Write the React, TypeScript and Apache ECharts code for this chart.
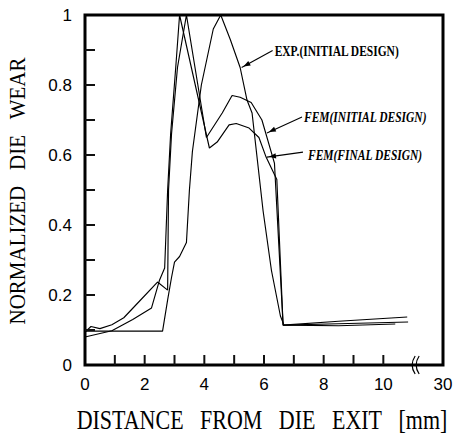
import React, { useEffect, useRef } from "react";
import * as echarts from "echarts";

// EXP.(INITIAL DESIGN)
const expX = [0, 2.6, 2.77, 2.9, 3.0, 3.17, 3.4, 3.5, 3.6, 3.9, 4.1, 4.3, 4.55, 4.87, 5.2, 5.43, 5.6, 5.97, 6.25, 6.55, 6.67, 8.5, 10.4];
const expY = [0.097, 0.097, 0.186, 0.25, 0.294, 0.31, 0.35, 0.5, 0.61, 0.8, 0.88, 0.96, 1.0, 0.93, 0.85, 0.757, 0.72, 0.44, 0.27, 0.14, 0.114, 0.112, 0.117];

// FEM(INITIAL DESIGN)
const femInitX = [0, 0.2, 0.5, 0.9, 1.3, 1.8, 2.43, 2.77, 2.8, 2.9, 3.1, 3.4, 4.07, 4.6, 4.93, 5.2, 5.57, 5.93, 6.35, 6.64, 8.5, 10.8];
const femInitY = [0.094, 0.11, 0.104, 0.115, 0.135, 0.18, 0.237, 0.214, 0.5, 0.66, 0.85, 1.0, 0.65, 0.72, 0.77, 0.765, 0.75, 0.7, 0.577, 0.114, 0.125, 0.137];

// FEM(FINAL DESIGN)
const femFinalX = [0, 0.9, 1.6, 2.23, 2.5, 2.67, 2.77, 2.87, 3.05, 3.17, 4.17, 4.43, 4.83, 5.07, 5.5, 5.83, 6.07, 6.43, 6.64, 8.5, 10.83];
const femFinalY = [0.08, 0.098, 0.13, 0.163, 0.243, 0.277, 0.5, 0.66, 0.86, 1.0, 0.62, 0.637, 0.686, 0.69, 0.677, 0.65, 0.594, 0.53, 0.114, 0.118, 0.123];

const xLabelValues = [0, 2, 4, 6, 8, 10, 12];
const xLabelTexts = ["0", "2", "4", "6", "8", "10", "30"];
const xTickValues = [1, 2, 3, 4, 5, 6, 7, 8, 9, 10];
const yTickValues = [0.1, 0.2, 0.3, 0.4, 0.5, 0.6, 0.7, 0.8, 0.9];

const annotationTexts = ["EXP.(INITIAL DESIGN)", "FEM(INITIAL DESIGN)", "FEM(FINAL DESIGN)"];
const annotationTipX = [5.25, 6.1, 6.1];
const annotationTipY = [0.85, 0.663, 0.594];

const SP = "\u00A0\u00A0\u00A0";
const xTitleWords = ["DISTANCE", "FROM", "DIE", "EXIT", "[mm]"];
const yTitleWords = ["NORMALIZED", "DIE", "WEAR"];

const zip = (xs: number[], ys: number[]) => xs.map((x, i) => [x, ys[i]]);

export default function App() {
  const ref = useRef<HTMLDivElement>(null);

  useEffect(() => {
    if (!ref.current) return;
    const chart = echarts.init(ref.current, undefined, { renderer: "svg" });
    const mkSeries = (name: string, xs: number[], ys: number[]) => ({
      name,
      type: "line",
      data: zip(xs, ys),
      symbol: "none",
      lineStyle: { color: "#000", width: 1.15 },
    });
    chart.setOption({
      animation: false,
      backgroundColor: "#fff",
      grid: { left: 85, right: 15, top: 15, bottom: 71, show: true, borderColor: "#000", borderWidth: 3 },
      xAxis: {
        type: "value",
        min: 0,
        max: 12,
        interval: 2,
        axisLine: { show: false },
        axisTick: { show: false },
        axisLabel: {
          customValues: xLabelValues,
          formatter: (v: number) => {
            const i = xLabelValues.indexOf(v);
            return i >= 0 ? xLabelTexts[i] : "";
          },
          color: "#000",
          fontFamily: "Liberation Sans",
          fontSize: 17,
          margin: 11,
        },
        splitLine: { show: false },
      },
      yAxis: {
        type: "value",
        min: 0,
        max: 1,
        interval: 0.2,
        axisLine: { show: false },
        axisTick: { show: false },
        axisLabel: {
          formatter: (v: number) => (v === 0 ? "0" : v === 1 ? "1" : v.toFixed(1)),
          color: "#000",
          fontFamily: "Liberation Sans",
          fontSize: 17,
          margin: 13,
        },
        splitLine: { show: false },
      },
      series: [
        mkSeries("EXP.(INITIAL DESIGN)", expX, expY),
        mkSeries("FEM(INITIAL DESIGN)", femInitX, femInitY),
        mkSeries("FEM(FINAL DESIGN)", femFinalX, femFinalY),
      ],
    });

    const graphics: any[] = [];
    const tickLen = 10;
    xTickValues.forEach((v) => {
      const p = chart.convertToPixel({ gridIndex: 0 }, [v, 0]) as number[];
      graphics.push({ type: "rect", z: 50, shape: { x: p[0] - 1, y: p[1] - tickLen, width: 2, height: tickLen }, style: { fill: "#111" } });
    });
    yTickValues.forEach((v) => {
      const p = chart.convertToPixel({ gridIndex: 0 }, [0, v]) as number[];
      graphics.push({ type: "rect", z: 50, shape: { x: p[0], y: p[1] - 1, width: tickLen, height: 2 }, style: { fill: "#111" } });
    });

    const tailOffsets = [
      [31, -17],
      [35, -16],
      [36, -5],
    ];
    const textOffsets = [
      [2, 0],
      [2, 0],
      [5, 3],
    ];
    annotationTexts.forEach((t, i) => {
      const tip = chart.convertToPixel({ gridIndex: 0 }, [annotationTipX[i], annotationTipY[i]]) as number[];
      const tail = [tip[0] + tailOffsets[i][0], tip[1] + tailOffsets[i][1]];
      const dx = tip[0] - tail[0];
      const dy = tip[1] - tail[1];
      const len = Math.hypot(dx, dy);
      const ux = dx / len;
      const uy = dy / len;
      const headLen = 9;
      const headW = 2.6;
      const bx = tip[0] - ux * headLen;
      const by = tip[1] - uy * headLen;
      graphics.push({
        type: "line",
        shape: { x1: tail[0], y1: tail[1], x2: tip[0], y2: tip[1] },
        style: { stroke: "#000", lineWidth: 1.1 },
      });
      graphics.push({
        type: "polygon",
        shape: {
          points: [
            [tip[0] - ux * 2, tip[1] - uy * 2],
            [bx - uy * headW, by + ux * headW],
            [bx + uy * headW, by - ux * headW],
          ],
        },
        style: { fill: "#000" },
      });
      graphics.push({
        type: "text",
        x: tail[0] + textOffsets[i][0],
        y: tail[1] + textOffsets[i][1],
        scaleY: 1.3,
        style: {
          text: t,
          fill: "#000",
          fontFamily: "Liberation Serif",
          fontWeight: "bold",
          fontStyle: i === 0 ? "normal" : "italic",
          fontSize: 11.5,
          align: "left",
          verticalAlign: "middle",
        },
      });
    });

    // axis break marks
    const bp = chart.convertToPixel({ gridIndex: 0 }, [11.1, 0]) as number[];
    [-2, 2].forEach((o) => {
      graphics.push({
        type: "bezierCurve",
        shape: { x1: bp[0] + o + 1, y1: bp[1] - 9, cpx1: bp[0] + o - 5, cpy1: bp[1], x2: bp[0] + o + 1, y2: bp[1] + 9 },
        style: { stroke: "#000", lineWidth: 1.2, fill: "none" },
      });
    });

    graphics.push({
      type: "text",
      x: 262,
      y: 420,
      scaleY: 1.2,
      style: {
        text: xTitleWords.join(SP),
        fill: "#000",
        fontFamily: "Liberation Serif",
        fontSize: 22,
        align: "center",
        verticalAlign: "middle",
      },
    });
    graphics.push({
      type: "text",
      x: 17,
      y: 191,
      rotation: Math.PI / 2,
      scaleY: 1.12,
      style: {
        text: yTitleWords.join("\u00A0\u00A0\u00A0"),
        fill: "#000",
        fontFamily: "Liberation Serif",
        fontSize: 21,
        align: "center",
        verticalAlign: "middle",
      },
    });

    chart.setOption({ graphic: graphics });
    return () => chart.dispose();
  }, []);

  return <div ref={ref} style={{ position: "fixed", left: 0, top: 0, width: 458, height: 436 }} />;
}
